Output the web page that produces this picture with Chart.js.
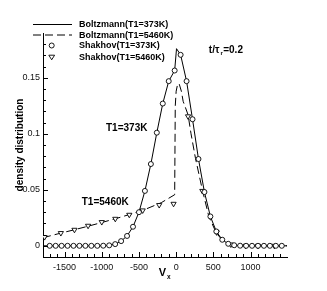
<!DOCTYPE html>
<html>
<head>
<meta charset="utf-8">
<script src="https://cdn.jsdelivr.net/npm/chart.js@4.4.0/dist/chart.umd.min.js"></script>
<style>
  html, body { margin: 0; padding: 0; background: #fff; }
  #wrap { width: 327px; height: 291px; }
</style>
</head>
<body>
<div id="wrap"><canvas id="densityChart" width="327" height="291"></canvas></div>
<script>
'use strict';

// Shakhov (T1=373K) - circles
const shakhov373X = [-1700, -1620, -1540, -1460, -1380, -1300, -1220, -1140, -1060, -980, -900, -820, -740, -660, -580, -500, -420, -340, -260, -180, -100, -20,
    60, 140, 220, 300, 380, 460, 540, 620, 700, 780, 860, 940, 1020, 1100, 1180, 1260, 1340, 1420];
const shakhov373Y = [0, 0, 0, 0, 0, 0, 0, 0, 0, 0.0001, 0.0004, 0.0015, 0.0042, 0.0088, 0.017, 0.030, 0.049, 0.073, 0.101, 0.127, 0.147, 0.1565,
    0.1705, 0.147, 0.113, 0.0775, 0.048, 0.0262, 0.0128, 0.0054, 0.0018, 0.0005, 0.0001, 0, 0, 0, 0, 0, 0, 0];

// Shakhov (T1=5460K) - triangles
const shakhov5460X = [-1769, -1550, -1367, -1184, -1000, -818, -630, -450, -228, -35, 160, 352, 545, 735, 935, 1100, 1320];
const shakhov5460Y = [0.0078, 0.0114, 0.0143, 0.0179, 0.0212, 0.0241, 0.0277, 0.0316, 0.0364, 0.0375, 0.1156, 0.049, 0.012, 0.0012, 0, 0, 0];

// Boltzmann (T1=373K) - solid line
const boltz373X = [-1790, -1060, -980, -900, -820, -740, -660, -580, -500, -420, -340, -260, -180, -100, -20, 5,
    60, 140, 220, 300, 380, 460, 540, 620, 700, 780, 860, 940, 1490];
const boltz373Y = [0, 0, 0.0001, 0.0004, 0.0015, 0.0042, 0.0088, 0.017, 0.030, 0.049, 0.073, 0.101, 0.127, 0.147, 0.1565, 0.176,
    0.1705, 0.147, 0.113, 0.0775, 0.048, 0.0262, 0.0128, 0.0054, 0.0018, 0.0005, 0.0001, 0, 0];

// Boltzmann (T1=5460K) - dashed line
const boltz5460X = [-1790, -1600, -1400, -1200, -1000, -800, -600, -400, -200, -20, -12, 0, 20, 40, 70, 94, 160, 200, 260, 352, 440, 540, 620, 700, 800, 900, 1490];
const boltz5460Y = [0.0072, 0.0105, 0.0138, 0.0172, 0.0208, 0.0245, 0.0285, 0.0330, 0.0385, 0.0456, 0.125, 0.138, 0.1445, 0.1447, 0.138, 0.129, 0.117, 0.100, 0.078, 0.050, 0.026, 0.0115, 0.005, 0.0015, 0.0003, 0, 0];

const xTickValues = [-1500, -1000, -500, 0, 500, 1000];
const xTickLabels = ['-1500', '-1000', '-500', '0', '500', '1000'];
const yTickValues = [0, 0.05, 0.1, 0.15];
const yTickLabels = ['0', '0.05', '0.1', '0.15'];

const legendLabels = ['Boltzmann(T1=373K)', 'Boltzmann(T1=5460K)', 'Shakhov(T1=373K)', 'Shakhov(T1=5460K)'];

const FONT = '"Liberation Sans", Arial, Helvetica, sans-serif';

function toPoints(xs, ys) {
    return xs.map((x, i) => ({ x: x, y: ys[i] }));
}

// Tecplot-like ticks: drawn inward, with minor ticks
const inwardTicks = {
    id: 'inwardTicks',
    afterDraw(chart) {
        const ctx = chart.ctx;
        const xs = chart.scales.x;
        const ys = chart.scales.y;
        const area = chart.chartArea;
        ctx.save();
        ctx.strokeStyle = '#000';
        ctx.lineWidth = 1;
        ctx.beginPath();
        for (let v = -1700; v <= 1400; v += 100) {
            const px = Math.round(xs.getPixelForValue(v)) + 0.5;
            const len = (v % 500 === 0) ? 5 : 3;
            ctx.moveTo(px, area.bottom);
            ctx.lineTo(px, area.bottom - len);
        }
        for (let k = -1; k <= 18; k++) {
            const v = k / 100;
            const py = Math.round(ys.getPixelForValue(v)) + 0.5;
            const len = (k % 5 === 0) ? 5 : 3;
            ctx.moveTo(area.left, py);
            ctx.lineTo(area.left + len, py);
        }
        ctx.stroke();
        ctx.restore();
    }
};

// Legend, axis subscript title and text notes
const notes = {
    id: 'notes',
    afterDraw(chart) {
        const ctx = chart.ctx;
        const xs = chart.scales.x;
        const ys = chart.scales.y;
        const area = chart.chartArea;
        ctx.save();
        ctx.fillStyle = '#000';
        ctx.strokeStyle = '#000';
        ctx.textBaseline = 'middle';
        ctx.textAlign = 'left';

        // legend
        const lx0 = 33, lx1 = 72, tx = 79;
        const rows = [24.5, 35, 45.5, 57];
        ctx.lineWidth = 1;
        ctx.beginPath();
        ctx.moveTo(lx0, rows[0]);
        ctx.lineTo(lx1, rows[0]);
        ctx.stroke();
        ctx.setLineDash([8, 4]);
        ctx.beginPath();
        ctx.moveTo(lx0, rows[1]);
        ctx.lineTo(lx1, rows[1]);
        ctx.stroke();
        ctx.setLineDash([]);
        ctx.lineWidth = 0.9;
        ctx.fillStyle = '#fff';
        ctx.beginPath();
        ctx.arc(51.7, rows[2], 2.5, 0, Math.PI * 2);
        ctx.fill();
        ctx.stroke();
        ctx.beginPath();
        ctx.moveTo(48.8, rows[3] - 1.8);
        ctx.lineTo(54.6, rows[3] - 1.8);
        ctx.lineTo(51.7, rows[3] + 2.8);
        ctx.closePath();
        ctx.fill();
        ctx.stroke();
        ctx.fillStyle = '#000';
        ctx.font = 'bold 9px ' + FONT;
        legendLabels.forEach((t, i) => ctx.fillText(t, tx, rows[i] + 0.5));

        // curve notes
        ctx.font = 'bold 10px ' + FONT;
        ctx.fillText('T1=373K', xs.getPixelForValue(-943), ys.getPixelForValue(0.1052));
        ctx.fillText('T1=5460K', xs.getPixelForValue(-1269), ys.getPixelForValue(0.0391));

        let px = xs.getPixelForValue(439);
        const py = ys.getPixelForValue(0.1746);
        ctx.fillText('t/\u03c4', px, py);
        px += ctx.measureText('t/\u03c4').width + 1;
        ctx.font = 'bold 6px ' + FONT;
        ctx.fillText('r', px, py + 3);
        px += ctx.measureText('r').width + 0.5;
        ctx.font = 'bold 10px ' + FONT;
        ctx.fillText('=0.2', px, py);

        // x axis title V_x
        const cx = (area.left + area.right) / 2;
        ctx.font = 'bold 11px ' + FONT;
        ctx.textAlign = 'right';
        ctx.fillText('V', cx + 1, 273);
        ctx.textAlign = 'left';
        ctx.font = 'bold 6.5px ' + FONT;
        ctx.fillText('x', cx + 2, 277);
        ctx.restore();
    }
};

const ctx = document.getElementById('densityChart').getContext('2d');
new Chart(ctx, {
    type: 'scatter',
    data: {
        datasets: [{
            label: legendLabels[2],
            data: toPoints(shakhov373X, shakhov373Y),
            pointStyle: 'circle',
            pointRadius: 2.5,
            pointBackgroundColor: '#fff',
            pointBorderColor: '#000',
            pointBorderWidth: 0.9,
            showLine: false
        }, {
            label: legendLabels[3],
            data: toPoints(shakhov5460X, shakhov5460Y),
            pointStyle: 'triangle',
            rotation: 180,
            pointRadius: 3,
            pointBackgroundColor: '#fff',
            pointBorderColor: '#000',
            pointBorderWidth: 0.9,
            showLine: false
        }, {
            label: legendLabels[0],
            data: toPoints(boltz373X, boltz373Y),
            showLine: true,
            borderColor: '#000',
            borderWidth: 1,
            pointRadius: 0,
            tension: 0
        }, {
            label: legendLabels[1],
            data: toPoints(boltz5460X, boltz5460Y),
            showLine: true,
            borderColor: '#000',
            borderWidth: 1,
            borderDash: [8, 4],
            pointRadius: 0,
            tension: 0
        }]
    },
    options: {
        responsive: false,
        animation: false,
        devicePixelRatio: 1,
        layout: {
            padding: { top: 33, right: 40, left: 0, bottom: 0 }
        },
        plugins: {
            legend: { display: false },
            tooltip: { enabled: false }
        },
        scales: {
            x: {
                type: 'linear',
                min: -1790,
                max: 1490,
                afterBuildTicks: function(scale) {
                    scale.ticks = xTickValues.map(v => ({ value: v }));
                },
                afterFit: function(scale) {
                    scale.height = 34;
                },
                grid: { drawOnChartArea: false, drawTicks: false },
                border: { display: true, color: '#000', width: 1 },
                ticks: {
                    padding: 5,
                    color: '#111',
                    font: { family: FONT, size: 9 },
                    maxRotation: 0,
                    callback: function(value) {
                        const i = xTickValues.indexOf(value);
                        return i >= 0 ? xTickLabels[i] : '';
                    }
                }
            },
            y: {
                type: 'linear',
                min: -0.01,
                max: 0.19,
                afterBuildTicks: function(scale) {
                    scale.ticks = yTickValues.map(v => ({ value: v }));
                },
                afterFit: function(scale) {
                    scale.width = 43;
                },
                grid: { drawOnChartArea: false, drawTicks: false },
                border: { display: true, color: '#000', width: 1 },
                ticks: {
                    padding: 3,
                    color: '#111',
                    font: { family: FONT, size: 9 },
                    callback: function(value) {
                        const i = yTickValues.indexOf(value);
                        return i >= 0 ? yTickLabels[i] : '';
                    }
                },
                title: {
                    display: true,
                    text: 'density distribution',
                    color: '#000',
                    font: { family: FONT, size: 10, weight: 'bold' },
                    padding: { top: 14, bottom: 0 }
                }
            }
        }
    },
    plugins: [inwardTicks, notes]
});
</script>
</body>
</html>
